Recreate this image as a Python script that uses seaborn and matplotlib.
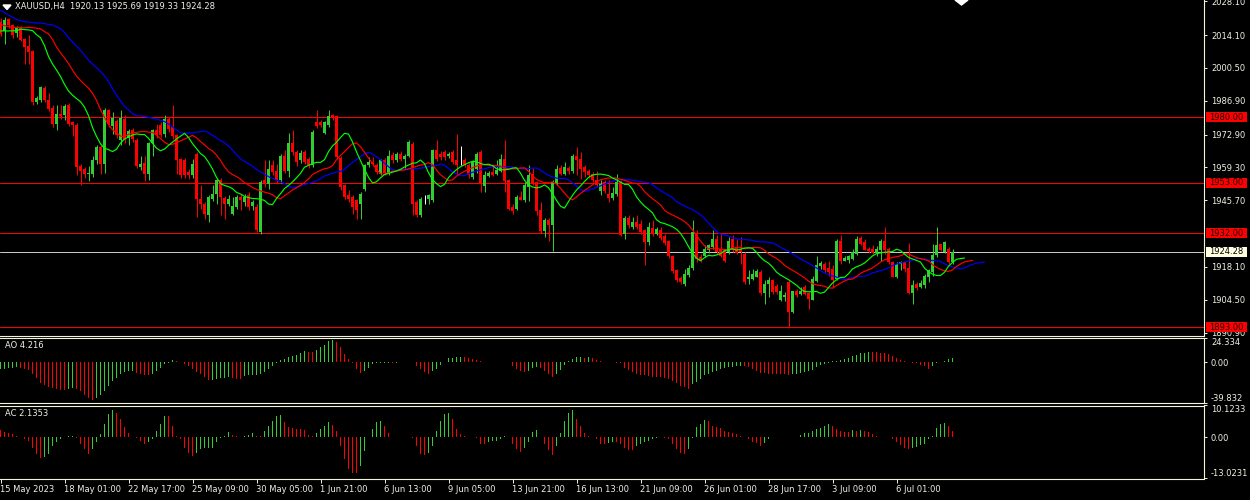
import numpy as np
import pandas as pd
import seaborn as sns
import matplotlib
matplotlib.use("Agg")
import matplotlib.pyplot as plt
from matplotlib.patches import Rectangle, Polygon

# ---------------- data ----------------
symbol_title = "XAUUSD,H4  1920.13 1925.69 1919.33 1924.28"

opens = [2019.5, 2015.7, 2020.6, 2018.1, 2014.9, 2017.4, 2012.6, 2009.4, 2007.5, 1986.3,
         1987.3, 1992.3, 1987.4, 1984.0, 1977.1, 1981.5, 1980.8, 1985.0, 1977.9, 1977.0,
         1959.7, 1958.6, 1956.4, 1956.4, 1962.2, 1967.7, 1960.5, 1982.9, 1976.3, 1978.7,
         1970.5, 1979.4, 1971.6, 1974.9, 1970.8, 1959.4, 1961.1, 1956.4, 1969.4, 1974.6,
         1977.0, 1973.2, 1979.4, 1976.0, 1972.5, 1962.6, 1962.2, 1957.3, 1956.0, 1964.9,
         1946.3, 1944.2, 1939.4, 1946.3, 1948.4, 1953.9, 1946.7, 1944.2, 1940.1, 1942.8,
         1947.0, 1945.0, 1947.7, 1943.5, 1942.8, 1932.5, 1954.0, 1952.5, 1960.1, 1958.0,
         1953.9, 1964.2, 1958.0, 1969.4, 1965.6, 1962.2, 1965.6, 1962.9, 1960.1, 1978.0,
         1978.0, 1973.6, 1976.7, 1980.8, 1980.4, 1963.3, 1951.8, 1948.0, 1947.0, 1945.6,
         1944.2, 1950.4, 1960.1, 1961.5, 1960.1, 1956.7, 1962.2, 1956.7, 1964.6, 1962.5,
         1965.0, 1962.9, 1964.2, 1969.1, 1944.9, 1939.4, 1945.6, 1946.3, 1945.6, 1966.3,
         1964.9, 1965.6, 1964.2, 1965.6, 1962.2, 1961.5, 1962.2, 1960.1, 1955.3, 1958.7,
         1965.5, 1951.4, 1955.7, 1957.3, 1956.7, 1958.0, 1962.9, 1953.9, 1942.9, 1942.2,
         1947.0, 1945.9, 1951.1, 1956.7, 1953.2, 1941.5, 1932.9, 1937.7, 1935.3, 1952.5,
         1959.1, 1956.7, 1959.1, 1958.0, 1964.2, 1962.6, 1959.4, 1957.7, 1956.7, 1954.2,
         1949.7, 1953.2, 1948.1, 1946.7, 1948.4, 1953.2, 1931.8, 1938.3, 1934.6, 1936.6,
         1936.0, 1933.2, 1928.4, 1934.3, 1931.8, 1933.5, 1930.7, 1928.8, 1922.4, 1916.6,
         1913.6, 1910.8, 1914.6, 1917.7, 1931.8, 1922.1, 1922.8, 1925.0, 1926.3, 1929.7,
         1925.6, 1924.9, 1924.2, 1929.7, 1926.3, 1925.6, 1923.5, 1913.2, 1913.2, 1914.1,
         1915.9, 1907.2, 1911.1, 1912.5, 1910.0, 1904.2, 1905.6, 1911.8, 1899.3, 1908.3,
         1907.0, 1909.7, 1907.2, 1904.5, 1912.2, 1918.3, 1919.1, 1917.7, 1917.3, 1913.2,
         1928.8, 1920.7, 1921.1, 1921.4, 1923.5, 1930.1, 1928.4, 1925.6, 1925.6, 1923.8,
         1924.9, 1929.0, 1925.6, 1920.1, 1914.1, 1919.4, 1920.1, 1917.7, 1907.2, 1911.1,
         1909.7, 1910.4, 1914.1, 1915.9, 1923.0, 1927.4, 1924.2, 1925.6, 1920.13]

highs = [2021.0, 2021.5, 2021.0, 2018.5, 2018.0, 2018.0, 2013.0, 2014.0, 2008.0, 1989.0,
         1993.0, 1993.0, 1990.0, 1985.0, 1985.0, 1985.0, 1985.5, 1986.0, 1978.5, 1977.5,
         1960.5, 1959.5, 1960.0, 1963.8, 1968.4, 1968.5, 1984.0, 1983.5, 1982.2, 1979.5,
         1982.9, 1980.8, 1975.3, 1975.5, 1971.5, 1964.2, 1964.2, 1970.0, 1975.0, 1977.4,
         1978.0, 1980.8, 1980.0, 1985.0, 1973.0, 1963.0, 1963.0, 1958.7, 1962.9, 1965.5,
         1951.8, 1945.0, 1948.0, 1951.8, 1954.6, 1955.0, 1947.5, 1947.7, 1947.0, 1947.7,
         1948.4, 1948.4, 1949.0, 1945.6, 1944.0, 1953.9, 1962.2, 1962.2, 1962.2, 1960.8,
         1965.0, 1966.6, 1973.5, 1974.6, 1966.3, 1966.6, 1966.3, 1963.5, 1974.6, 1982.9,
         1979.0, 1978.5, 1983.2, 1981.5, 1980.8, 1964.0, 1952.5, 1950.0, 1947.7, 1946.3,
         1949.0, 1960.8, 1963.6, 1963.6, 1961.0, 1962.9, 1963.3, 1966.3, 1965.6, 1965.6,
         1966.0, 1965.0, 1970.5, 1970.0, 1945.6, 1947.0, 1947.7, 1948.4, 1967.0, 1970.5,
         1966.0, 1966.3, 1965.6, 1966.3, 1973.2, 1968.0, 1963.0, 1961.0, 1962.2, 1965.6,
         1966.6, 1958.0, 1958.0, 1960.8, 1962.2, 1965.0, 1970.5, 1954.5, 1944.2, 1947.7,
         1949.7, 1953.2, 1960.1, 1959.1, 1953.5, 1945.0, 1938.4, 1938.4, 1954.0, 1960.1,
         1960.1, 1961.5, 1959.8, 1964.7, 1967.7, 1965.6, 1960.1, 1958.7, 1957.3, 1958.0,
         1953.9, 1954.0, 1953.9, 1951.1, 1956.7, 1954.0, 1939.0, 1939.4, 1938.7, 1939.4,
         1937.3, 1933.9, 1936.6, 1937.6, 1934.6, 1934.6, 1931.8, 1929.3, 1923.0, 1917.3,
         1914.5, 1917.3, 1918.7, 1937.3, 1933.2, 1923.5, 1927.0, 1927.7, 1933.2, 1931.1,
         1931.8, 1925.6, 1930.4, 1931.1, 1929.7, 1930.4, 1924.2, 1916.6, 1917.3, 1917.3,
         1916.6, 1912.5, 1913.9, 1913.2, 1911.0, 1910.4, 1907.6, 1912.5, 1908.3, 1909.0,
         1909.7, 1910.4, 1907.6, 1914.5, 1922.8, 1920.7, 1920.1, 1920.7, 1918.7, 1929.7,
         1931.1, 1922.8, 1923.2, 1925.6, 1930.7, 1930.7, 1929.7, 1926.3, 1927.0, 1926.6,
         1929.7, 1934.8, 1926.3, 1920.7, 1920.1, 1920.7, 1920.7, 1927.9, 1912.5, 1911.8,
         1912.5, 1915.2, 1917.3, 1927.7, 1934.8, 1927.7, 1929.0, 1926.3, 1925.69]

lows = [2013.5, 2010.5, 2017.0, 2013.0, 2013.3, 2011.5, 2002.2, 2002.0, 1985.0, 1985.5,
        1986.5, 1986.5, 1982.5, 1976.0, 1974.9, 1979.5, 1979.0, 1976.5, 1972.1, 1956.0,
        1951.8, 1955.0, 1953.6, 1955.5, 1960.8, 1956.7, 1957.0, 1976.0, 1973.0, 1971.5,
        1968.4, 1969.5, 1968.4, 1970.0, 1959.0, 1958.3, 1953.6, 1953.9, 1964.2, 1971.5,
        1972.0, 1972.0, 1974.0, 1971.0, 1956.7, 1955.0, 1955.0, 1954.6, 1955.0, 1938.7,
        1942.1, 1938.0, 1936.6, 1945.5, 1944.2, 1939.4, 1938.0, 1943.5, 1939.4, 1942.1,
        1941.5, 1943.5, 1941.5, 1941.5, 1932.5, 1931.8, 1951.0, 1950.4, 1956.0, 1953.0,
        1953.0, 1957.0, 1955.3, 1964.5, 1960.0, 1961.0, 1960.5, 1959.0, 1959.4, 1975.5,
        1976.0, 1973.0, 1976.0, 1979.0, 1962.9, 1950.0, 1946.0, 1945.0, 1940.0, 1938.0,
        1938.0, 1949.7, 1959.4, 1960.0, 1956.7, 1956.0, 1956.0, 1956.0, 1961.0, 1961.5,
        1962.0, 1958.7, 1963.5, 1939.4, 1938.7, 1938.7, 1944.2, 1944.2, 1945.0, 1962.0,
        1962.5, 1962.2, 1963.0, 1960.8, 1956.0, 1960.1, 1959.4, 1955.0, 1954.6, 1957.0,
        1949.0, 1949.0, 1955.3, 1955.7, 1956.0, 1957.3, 1949.0, 1941.5, 1939.8, 1941.5,
        1945.6, 1945.0, 1945.2, 1951.8, 1939.4, 1932.2, 1930.4, 1928.8, 1924.5, 1951.8,
        1956.0, 1956.0, 1956.7, 1957.0, 1956.0, 1954.6, 1955.3, 1955.0, 1953.2, 1951.1,
        1947.7, 1948.5, 1944.9, 1945.9, 1947.5, 1930.8, 1929.7, 1934.0, 1933.9, 1933.9,
        1931.8, 1918.7, 1927.0, 1931.0, 1931.3, 1929.3, 1927.0, 1921.7, 1915.6, 1911.8,
        1910.8, 1910.0, 1914.0, 1916.9, 1920.0, 1920.0, 1922.1, 1923.8, 1925.6, 1923.5,
        1922.1, 1920.0, 1923.5, 1924.2, 1923.5, 1919.4, 1911.1, 1911.1, 1912.5, 1913.9,
        1906.5, 1902.8, 1905.6, 1906.9, 1906.9, 1903.9, 1903.9, 1893.2, 1899.0, 1905.6,
        1906.3, 1906.3, 1900.7, 1904.2, 1911.8, 1917.3, 1915.9, 1914.5, 1909.4, 1912.5,
        1919.4, 1920.4, 1919.7, 1921.0, 1923.0, 1927.0, 1924.9, 1923.9, 1923.5, 1922.8,
        1920.7, 1923.5, 1919.4, 1913.9, 1913.5, 1916.6, 1915.9, 1906.9, 1902.8, 1908.7,
        1909.4, 1909.4, 1911.8, 1914.5, 1922.1, 1924.6, 1923.8, 1919.4, 1919.33]

closes = [2014.6, 2020.2, 2018.1, 2014.0, 2017.4, 2012.2, 2009.1, 2007.0, 1986.3, 1988.1,
          1992.5, 1987.3, 1983.3, 1977.1, 1981.2, 1980.4, 1984.8, 1977.4, 1976.7, 1959.4,
          1958.0, 1956.4, 1957.1, 1962.4, 1967.7, 1960.5, 1982.9, 1977.1, 1979.8, 1972.5,
          1979.8, 1970.5, 1974.3, 1971.2, 1959.7, 1960.8, 1956.4, 1969.4, 1974.6, 1972.5,
          1972.8, 1979.4, 1975.3, 1972.1, 1962.2, 1956.0, 1956.0, 1956.0, 1960.8, 1946.3,
          1944.2, 1940.1, 1947.0, 1948.4, 1953.9, 1947.0, 1944.2, 1946.3, 1943.1, 1947.0,
          1945.6, 1947.0, 1942.8, 1944.9, 1933.2, 1953.2, 1952.5, 1958.7, 1957.3, 1953.9,
          1964.2, 1958.0, 1969.4, 1965.6, 1961.5, 1965.3, 1961.5, 1960.1, 1973.9, 1976.3,
          1976.7, 1978.1, 1980.4, 1979.8, 1963.6, 1951.1, 1947.0, 1946.3, 1942.8, 1941.5,
          1948.4, 1960.1, 1961.5, 1960.8, 1957.3, 1962.2, 1957.0, 1964.2, 1962.2, 1965.0,
          1962.9, 1964.2, 1969.8, 1944.2, 1939.4, 1946.3, 1945.6, 1947.7, 1966.3, 1962.9,
          1963.6, 1963.6, 1964.9, 1961.5, 1960.1, 1961.5, 1960.1, 1956.0, 1961.5, 1964.9,
          1952.5, 1956.0, 1957.0, 1956.3, 1958.4, 1962.9, 1953.6, 1942.2, 1941.2, 1947.0,
          1945.9, 1951.8, 1956.0, 1952.8, 1941.2, 1932.9, 1937.7, 1935.3, 1953.2, 1958.7,
          1956.7, 1959.4, 1957.7, 1964.2, 1962.2, 1958.7, 1957.3, 1956.0, 1954.2, 1951.8,
          1952.5, 1949.5, 1946.7, 1948.6, 1953.2, 1931.1, 1938.3, 1935.3, 1936.6, 1934.8,
          1932.5, 1928.4, 1934.6, 1931.8, 1933.9, 1930.1, 1927.9, 1922.4, 1916.3, 1912.5,
          1911.8, 1915.0, 1917.7, 1932.5, 1921.4, 1920.7, 1925.6, 1927.0, 1929.7, 1924.2,
          1922.8, 1920.7, 1929.0, 1924.9, 1923.8, 1924.2, 1911.8, 1913.9, 1915.2, 1916.3,
          1907.2, 1911.1, 1912.7, 1907.6, 1907.6, 1908.3, 1906.5, 1899.3, 1908.1, 1906.3,
          1908.3, 1907.0, 1904.9, 1913.2, 1918.7, 1919.7, 1916.6, 1915.9, 1912.7, 1929.0,
          1920.4, 1921.9, 1922.8, 1924.2, 1929.7, 1927.7, 1925.2, 1924.6, 1923.8, 1925.6,
          1929.0, 1924.9, 1920.1, 1914.1, 1919.4, 1920.1, 1917.3, 1907.2, 1910.4, 1909.4,
          1911.4, 1914.5, 1916.9, 1923.2, 1927.0, 1924.9, 1928.4, 1920.1, 1924.28]

# Awesome Oscillator and Accelerator values, read bar by bar
ao_values = [-6.7, -6.0, -5.3, -5.0, -4.3, -5.0, -6.0, -7.3, -11.7, -15.0,
             -20.0, -21.7, -24.0, -25.0, -26.0, -26.7, -26.9, -26.0, -25.3, -26.0,
             -28.3, -31.7, -35.0, -36.7, -35.0, -31.7, -28.3, -23.3, -18.3, -15.0,
             -11.7, -9.3, -8.3, -8.0, -10.0, -11.7, -12.7, -12.8, -11.7, -8.3,
             -5.0, -1.7, -0.7, 2.3, 1.7, 0.2, -1.7, -3.3, -6.0, -9.3,
             -11.7, -14.0, -17.3, -17.0, -16.3, -15.7, -15.0, -14.3, -15.0, -16.0,
             -16.3, -13.3, -12.7, -12.3, -12.2, -11.7, -9.3, -6.7, -3.3, -0.5,
             2.7, 3.3, 5.0, 6.7, 7.7, 9.3, 11.0, 10.7, 10.0, 12.7,
             15.0, 17.3, 20.7, 21.7, 20.0, 15.0, 8.3, 3.3, -0.7, -6.7,
             -10.0, -8.3, -5.0, -1.7, -1.0, -0.6, -0.4, -0.2, -0.25, -0.1,
             0.1, 0.3, 0.2, 0.1, -3.3, -6.7, -9.0, -11.7, -8.3, -6.0,
             -2.7, 0.3, 4.0, 4.3, 5.0, 5.7, 5.0, 4.3, 3.3, 2.7,
             1.0, 0.2, 0.1, 0.05, 0.3, 0.5, 0.7, 0.9, -3.3, -6.0,
             -8.3, -9.3, -8.0, -5.7, -4.7, -5.3, -8.3, -11.0, -14.0, -11.0,
             -7.0, -2.7, 1.0, 3.3, 5.0, 5.7, 4.7, 5.2, 4.0, 2.3,
             1.0, 0.3, 0.1, 0.2, -0.3, -1.0, -5.0, -7.7, -9.3, -11.0,
             -12.0, -12.7, -13.3, -14.0, -14.3, -14.7, -15.0, -16.0, -18.3, -20.0,
             -22.7, -24.3, -25.7, -21.0, -19.0, -16.0, -12.7, -11.0, -9.3, -8.0,
             -6.3, -5.3, -4.7, -4.0, -3.7, -3.0, -3.3, -4.0, -6.0, -8.3,
             -10.0, -10.7, -11.0, -11.3, -11.5, -11.7, -11.8, -12.0, -11.7, -11.0,
             -10.0, -9.3, -8.3, -7.0, -4.3, -2.7, -1.7, -0.7, 1.0, 1.7,
             2.7, 3.3, 4.0, 6.0, 7.7, 9.0, 9.3, 10.0, 9.9, 9.8,
             9.3, 9.0, 8.3, 6.7, 4.3, 2.7, 1.0, 0.3, -0.2, -1.0,
             -2.3, -3.3, -6.0, -3.3, -1.0, 0.2, 1.5, 3.4, 4.216]

ac_values = [2.3, 1.6, 1.4, 1.2, 0.3, 0.1, -0.5, -1.0, -3.2, -5.3,
             -6.6, -6.3, -5.3, -2.6, -1.6, -0.5, 0.2, 0.3, 0.4, -0.1,
             -2.1, -3.7, -5.3, -3.7, -1.3, 1.1, 4.4, 7.4, 8.7, 7.9,
             5.8, 3.2, 1.4, 0.0, -0.3, -1.0, -2.1, -1.4, -0.5, 2.1,
             4.2, 6.9, 6.7, 3.6, 0.5, -0.5, -3.2, -4.8, -5.8, -4.8,
             -3.7, -3.5, -3.4, -3.2, -1.6, -0.2, 0.5, 1.6, 0.7, 0.3,
             0.1, 0.3, 0.8, 1.5, 0.5, 0.3, 2.1, 3.7, 5.3, 6.9,
             7.2, 4.8, 3.2, 3.0, 2.8, 2.6, 2.4, 0.8, 0.5, 1.5,
             2.6, 3.7, 4.8, 3.9, 2.1, -2.6, -6.9, -10.0, -11.3, -11.4,
             -9.0, -4.2, 0.0, 2.6, 5.0, 5.3, 3.7, 1.4, 0.1, 0.0,
             0.05, 0.1, 0.0, -0.3, -2.6, -5.3, -5.6, -5.0, -2.6, 2.1,
             5.3, 7.4, 7.6, 5.8, 2.6, 1.0, 0.3, 0.1, 0.0, -0.3,
             -2.1, -2.2, -1.3, -1.2, -1.0, -0.5, 0.5, 0.0, -2.1, -3.7,
             -4.6, -3.2, -1.4, 1.6, 2.3, 0.0, -2.1, -3.9, -5.6, -2.6,
             1.4, 5.3, 7.9, 8.7, 6.0, 3.5, 1.4, 0.3, 0.1, -0.5,
             -2.1, -2.2, -1.8, -1.4, -1.6, -2.1, -3.2, -3.9, -4.0, -2.6,
             -2.1, -1.4, -1.0, -0.5, -0.3, 0.2, -0.3, -0.5, -2.1, -3.7,
             -5.0, -5.1, -3.7, -0.1, 3.2, 4.4, 5.6, 5.3, 3.7, 3.2,
             3.1, 2.1, 1.8, 1.3, 1.2, 0.5, 0.0, -0.5, -1.4, -1.8,
             -2.8, -1.8, -0.5, 0.0, 0.1, 0.15, 0.2, 0.1, 0.0, 0.05,
             0.7, 1.3, 1.4, 2.1, 2.6, 3.0, 3.5, 4.2, 3.5, 2.6,
             2.1, 1.8, 1.6, 2.3, 2.1, 2.2, 2.0, 1.8, 1.1, 0.3,
             0.2, 0.1, 0.0, -0.5, -1.6, -2.4, -3.5, -3.7, -3.2, -2.9,
             -2.4, -2.1, -0.5, 0.5, 2.9, 4.4, 4.6, 3.5, 2.1353]

# Alligator (SMMA of median price): seeds and lead-in values
jaw_seed, teeth_seed, lips_seed = 2019.5, 2017.2, 2015.5
jaw_lead = [2024.3, 2023.5, 2022.3, 2021.5, 2020.5, 2020.0, 2019.7, 2019.5]
teeth_lead = [2018.5, 2018.0, 2017.6, 2017.3, 2017.2]
lips_lead = [2015.8, 2015.8, 2015.8]

price_ticks = [2028.10, 2014.10, 2000.50, 1986.90, 1972.90, 1959.30, 1945.70,
               1918.10, 1904.50, 1890.90]
level_lines = [1980.00, 1953.00, 1932.00, 1893.00]
last_price = 1924.28
ao_range = (-39.832, 24.334)
ac_range = (-13.0231, 10.1233)
date_ticks = [0, 16, 32, 48, 64, 80, 96, 112, 128, 144, 160, 176, 192, 208, 224]
date_labels = ["15 May 2023", "18 May 01:00", "22 May 17:00", "25 May 09:00",
               "30 May 05:00", "1 Jun 21:00", "6 Jun 13:00", "9 Jun 05:00",
               "13 Jun 21:00", "16 Jun 13:00", "21 Jun 09:00", "26 Jun 01:00",
               "28 Jun 17:00", "3 Jul 09:00", "6 Jul 01:00"]

# ---------------- style ----------------
sns.set_style("dark")
plt.rcParams["font.family"] = ["DejaVu Sans"]
FG = "#f4f4dc"
TXT = "#f0f0e6"
UP = "#32cd32"
DN = "#ff0000"
FS = 6.0
PX = 0.72  # one pixel in points at 100 dpi

W, H = 1250, 500
fig = plt.figure(figsize=(W / 100, H / 100), dpi=100, facecolor="black")


def fy(py):
    return 1 - py / H


ax = fig.add_axes([0, fy(335.5), 1204 / W, 335.5 / H])
ao_ax = fig.add_axes([0, fy(403.0), 1204 / W, (403.0 - 337.7) / H])
ac_ax = fig.add_axes([0, fy(478.5), 1204 / W, (478.5 - 405.5) / H])

XL = (-0.125, 300.875)
for a in (ax, ao_ax, ac_ax):
    a.set_facecolor("black")
    a.set_xlim(*XL)
    a.grid(False)
    for s in a.spines.values():
        s.set_color(FG)
        s.set_linewidth(0.8)
    a.spines["left"].set_visible(False)
    a.yaxis.tick_right()
    a.tick_params(axis="y", colors=FG, labelcolor=TXT, length=2.5, width=0.7,
                  pad=2.5, labelsize=FS, direction="out")
ax.spines["top"].set_visible(False)

# ---------------- candles ----------------
df = pd.DataFrame({"o": opens, "h": highs, "l": lows, "c": closes})
df["x"] = np.arange(len(df))
df["col"] = np.where(df.c > df.o, UP, np.where(df.c < df.o, DN, "#ffffff"))
YMIN, YMAX = 1889.68, 2028.6
ax.set_ylim(YMIN, YMAX)

for lvl in level_lines:
    ax.axhline(lvl, color=DN, lw=PX, zorder=1, snap=True)
ax.axhline(last_price, color="#c8c8c8", lw=PX, zorder=1, snap=True)

ax.vlines(df.x, df.l, df.h, colors=df.col, lw=PX, zorder=2, snap=True)
ax.bar(df.x, (df.c - df.o).where((df.c - df.o).abs() > 0.05, 0.15), bottom=df.o,
       width=0.75, color=df.col, linewidth=0, zorder=3, snap=True)

# ---------------- alligator ----------------
median = ((df.h + df.l) / 2).tolist()


def smma(vals, n, seed):
    out, s = [], seed
    for v in vals:
        s = (s * (n - 1) + v) / n
        out.append(s)
    return out


n = len(df)
for lead, per, shift, seed, col in [
    (jaw_lead, 13, 8, jaw_seed, "#0000ff"),
    (teeth_lead, 8, 5, teeth_seed, "#ff0000"),
    (lips_lead, 5, 3, lips_seed, "#00ff00"),
]:
    ys = lead + smma(median, per, seed)
    xs = list(range(len(lead))) + list(np.arange(n) + shift)
    line_df = pd.DataFrame({"x": xs, "y": ys})
    sns.lineplot(data=line_df, x="x", y="y", ax=ax, color=col, lw=0.85,
                 estimator=None, sort=False, zorder=4, legend=False)

ax.set_xlabel("")
ax.set_ylabel("")
ax.set_xticks([])
ax.set_yticks(price_ticks)
ax.set_yticklabels([f"{p:.2f}" for p in price_ticks])

# ---------------- AO / AC ----------------
def osc_colors(vals):
    cols = []
    for i, v in enumerate(vals):
        if i == 0:
            cols.append(UP)
        else:
            cols.append(UP if v > vals[i - 1] else DN)
    return cols


ao_cols = osc_colors(ao_values)
ac_cols = osc_colors(ac_values)
ac_cols[0] = DN
ao_ax.bar(np.arange(len(ao_values)), ao_values, width=0.25, color=ao_cols,
          linewidth=0, snap=True)
ac_ax.bar(np.arange(len(ac_values)), ac_values, width=0.25, color=ac_cols,
          linewidth=0, snap=True)
ao_ax.set_ylim(*ao_range)
ac_ax.set_ylim(*ac_range)
ao_ax.set_xticks([])
ao_ax.set_yticks([ao_range[1], 0, ao_range[0]])
ao_ax.set_yticklabels(["24.334", "0.00", "-39.832"])
ac_ax.set_yticks([ac_range[1], 0, ac_range[0]])
ac_ax.set_yticklabels(["10.1233", "0.00", "-13.0231"])
for a in (ao_ax, ac_ax):
    labs = a.get_yticklabels()
    labs[0].set_va("top")
    labs[2].set_va("bottom")

ac_ax.set_xticks(date_ticks)
ac_ax.set_xticklabels(date_labels)
ac_ax.tick_params(axis="x", colors=FG, labelcolor=TXT, length=3, width=0.7,
                  pad=1.5, labelsize=FS, direction="out", bottom=True)
for lb in ac_ax.get_xticklabels():
    lb.set_ha("left")

fig.text(5 / W, fy(346), f"AO {ao_values[-1]:.3f}", color=TXT, fontsize=FS,
         va="center", ha="left")
fig.text(5 / W, fy(414), f"AC {ac_values[-1]:.4f}", color=TXT, fontsize=FS,
         va="center", ha="left")

# ---------------- title and markers ----------------
fig.text(15 / W, fy(7), symbol_title, color=TXT, fontsize=FS, va="center", ha="left")
fig.add_artist(Polygon([(3 / W, fy(5)), (11 / W, fy(5)), (7 / W, fy(9.5))],
                       closed=True, transform=fig.transFigure, color="white"))
fig.add_artist(Polygon([(955 / W, fy(0)), (968 / W, fy(0)), (961.5 / W, fy(5))],
                       closed=True, transform=fig.transFigure, color="white"))

# price boxes on the right scale
ax_bottom = fy(335.5)
ax_h = 335.5 / H


def price_box(p, bg, fg):
    yf = ax_bottom + (p - YMIN) / (YMAX - YMIN) * ax_h
    fig.add_artist(Rectangle((1206 / W, yf - 5 / H), 41 / W, 10 / H,
                             transform=fig.transFigure, facecolor=bg,
                             edgecolor="none", zorder=10))
    fig.text(1209 / W, yf, f"{p:.2f}", color=fg, fontsize=FS, va="center",
             ha="left", zorder=11)


for lvl in level_lines:
    price_box(lvl, "#ff0000", "#1a0000")
price_box(last_price, "#ffffe0", "#000000")

fig.savefig("out.png", dpi=100, facecolor="black")
